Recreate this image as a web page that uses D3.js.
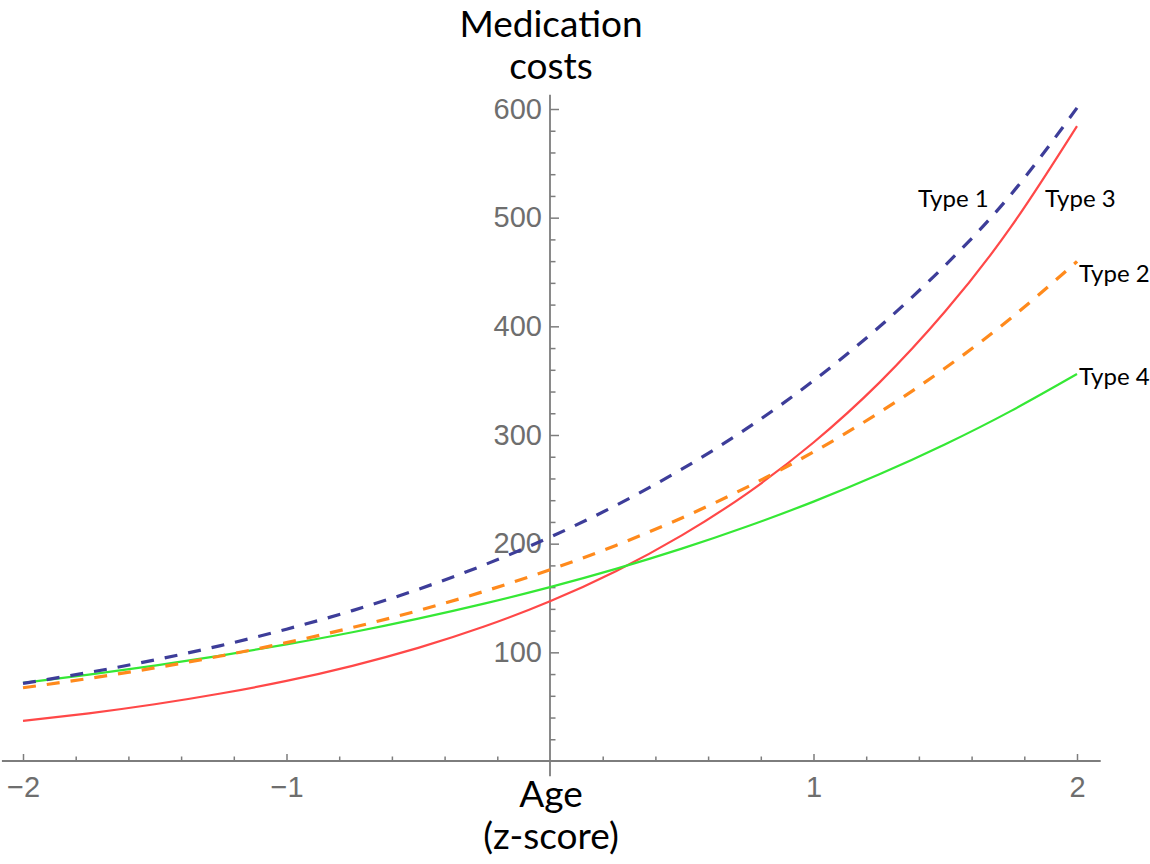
<!DOCTYPE html>
<html>
<head>
<meta charset="utf-8">
<script src="https://cdn.jsdelivr.net/npm/d3@7"></script>
<style>
  html, body { margin: 0; padding: 0; background: #ffffff; }
  svg { display: block; }
</style>
</head>
<body>
<svg id="chart" width="1150" height="864"></svg>
<script>
// ---- data ----
const ageZ = [-2, -1.75, -1.5, -1.25, -1, -0.75, -0.5, -0.25, 0, 0.25, 0.5, 0.75, 1, 1.25, 1.5, 1.75, 2];
const type1 = [71.4, 81.5, 93.0, 106.2, 121.3, 138.4, 158.0, 180.4, 206.0, 235.2, 268.5, 306.5, 350.0, 399.6, 456.2, 521.5, 601.0];
const type2 = [67.4, 76.0, 85.7, 96.6, 108.9, 122.8, 138.4, 156.1, 176.0, 198.4, 223.7, 252.3, 284.4, 320.7, 361.6, 407.7, 459.7];
const type3 = [37.0, 43.9, 52.2, 62.1, 73.7, 87.6, 104.1, 123.7, 147.0, 174.7, 207.6, 246.6, 293.1, 348.2, 413.8, 491.7, 584.3];
const type4 = [71.9, 79.5, 87.8, 97.0, 107.3, 118.5, 131.0, 144.8, 160.0, 176.8, 195.4, 216.0, 238.7, 263.8, 291.5, 322.2, 356.1];
const seriesNames = ["Type 1", "Type 2", "Type 3", "Type 4"];
const xMajorTicks = [-2, -1, 1, 2];
const xMinorTicks = [-1.8, -1.6, -1.4, -1.2, -0.8, -0.6, -0.4, -0.2, 0.2, 0.4, 0.6, 0.8, 1.2, 1.4, 1.6, 1.8];
const yMajorTicks = [100, 200, 300, 400, 500, 600];
const yMinorTicks = [20, 40, 60, 80, 120, 140, 160, 180, 220, 240, 260, 280, 320, 340, 360, 380, 420, 440, 460, 480, 520, 540, 560, 580];
const yAxisTitle = ["Medication", "costs"];
const xAxisTitle = ["Age", "(z-score)"];

// ---- layout ----
const svg = d3.select("#chart");
const x = d3.scaleLinear().domain([-2, 2]).range([23, 1077]);
const y = d3.scaleLinear().domain([0, 600]).range([761, 109]);
const axisColor = "#7d7d7d";
const tickTextColor = "#6e6e6e";
const labelFont = "Lato, 'Open Sans', sans-serif";

// axis lines
svg.append("line")
  .attr("x1", x(-2.08)).attr("x2", x(2.09))
  .attr("y1", y(0)).attr("y2", y(0))
  .attr("stroke", axisColor).attr("stroke-width", 1.8);
svg.append("line")
  .attr("x1", x(0)).attr("x2", x(0))
  .attr("y1", y(613)).attr("y2", y(-14))
  .attr("stroke", axisColor).attr("stroke-width", 1.8);

function styleAxis(g) {
  g.select(".domain").remove();
  g.selectAll(".tick line").attr("stroke", axisColor).attr("stroke-width", 1.5);
  g.selectAll(".tick text")
    .attr("fill", tickTextColor)
    .attr("font-family", "'Liberation Sans', Arial, sans-serif")
    .attr("font-size", 29);
}

const fmtX = v => (v < 0 ? "\u2212" + Math.abs(v) : String(v));

// x axis: major + minor ticks pointing up
svg.append("g")
  .attr("transform", `translate(0,${y(0)})`)
  .call(d3.axisBottom(x).tickValues(xMajorTicks).tickSize(-7).tickPadding(15).tickFormat(fmtX))
  .call(styleAxis);
svg.append("g")
  .attr("transform", `translate(0,${y(0)})`)
  .call(d3.axisBottom(x).tickValues(xMinorTicks).tickSize(-4.5).tickFormat(""))
  .call(styleAxis);

// y axis: major + minor ticks pointing right
svg.append("g")
  .attr("transform", `translate(${x(0)},0)`)
  .call(d3.axisLeft(y).tickValues(yMajorTicks).tickSize(-9).tickPadding(8).tickFormat(d3.format("d")))
  .call(styleAxis);
svg.append("g")
  .attr("transform", `translate(${x(0)},0)`)
  .call(d3.axisLeft(y).tickValues(yMinorTicks).tickSize(-5.5).tickFormat(""))
  .call(styleAxis);

// curves
const line = d3.line().x((d, i) => x(ageZ[i])).y(d => y(d)).curve(d3.curveNatural);
const series = [
  { name: seriesNames[2], values: type3, color: "#ff4848", width: 2.2, dash: null },
  { name: seriesNames[3], values: type4, color: "#35e835", width: 2.2, dash: null },
  { name: seriesNames[1], values: type2, color: "#ff8a1c", width: 3.2, dash: "13,11" },
  { name: seriesNames[0], values: type1, color: "#3d3d99", width: 3.2, dash: "13,11" }
];
svg.append("g").selectAll("path").data(series).join("path")
  .attr("d", d => line(d.values))
  .attr("fill", "none")
  .attr("stroke", d => d.color)
  .attr("stroke-width", d => d.width)
  .attr("stroke-dasharray", d => d.dash);

// series labels
const seriesLabels = [
  { text: seriesNames[0], x: 918, y: 207 },
  { text: seriesNames[2], x: 1045, y: 207 },
  { text: seriesNames[1], x: 1079, y: 282 },
  { text: seriesNames[3], x: 1079, y: 385 }
];
svg.append("g").selectAll("text").data(seriesLabels).join("text")
  .attr("x", d => d.x).attr("y", d => d.y)
  .attr("font-family", labelFont).attr("font-size", 24)
  .attr("fill", "#000")
  .text(d => d.text);

// axis titles
svg.append("g").selectAll("text").data(yAxisTitle).join("text")
  .attr("x", 551).attr("y", (d, i) => 37 + i * 42)
  .attr("text-anchor", "middle")
  .attr("font-family", labelFont).attr("font-size", 37)
  .attr("fill", "#000")
  .text(d => d);
svg.append("g").selectAll("text").data(xAxisTitle).join("text")
  .attr("x", 551).attr("y", (d, i) => 807 + i * 42)
  .attr("text-anchor", "middle")
  .attr("font-family", labelFont).attr("font-size", 37)
  .attr("fill", "#000")
  .text(d => d);
</script>
</body>
</html>
